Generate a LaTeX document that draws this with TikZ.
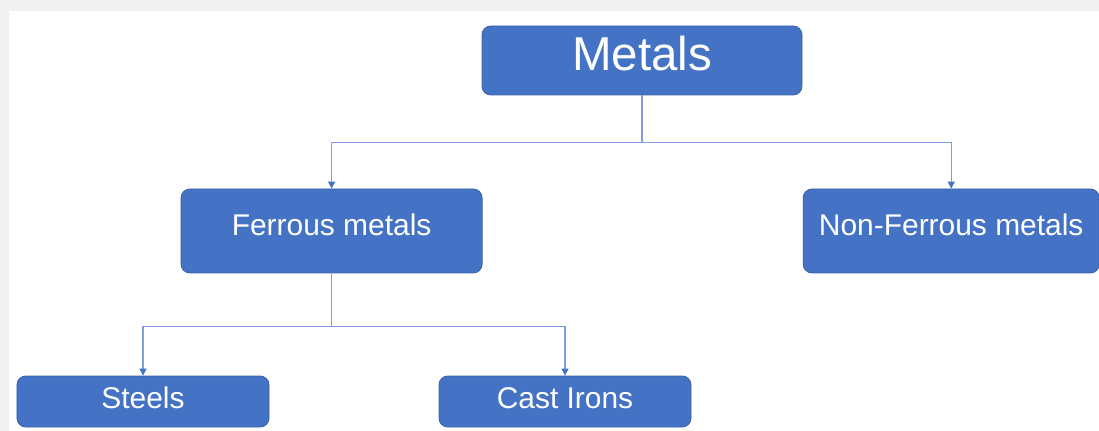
\documentclass[tikz,border=0pt]{standalone}
\usepackage{fontspec}
\setmainfont{Liberation Sans}
\usetikzlibrary{arrows.meta}
\definecolor{boxblue}{HTML}{4472C4}
\definecolor{boxedge}{HTML}{3A62AE}
\definecolor{linkblue}{HTML}{7E9EDE}
\definecolor{pagegray}{HTML}{F1F1F1}
\tikzset{
  box/.style={draw=boxedge, line width=0.6pt, fill=boxblue, text=white,
    rounded corners=0.22cm, inner sep=0pt, align=center},
  big/.style={font=\fontsize{33.8}{40}\selectfont, text height=0.85cm, text depth=0.325cm},
  mid/.style={font=\fontsize{21.3}{26}\selectfont, text height=0.55cm, text depth=0.3cm},
  low/.style={font=\fontsize{21.3}{26}\selectfont, text height=0.55cm, text depth=0.225cm},
  link/.style={draw=linkblue, line width=0.8pt, ->}
}
\begin{document}
\begin{tikzpicture}[>={Triangle[length=5pt,width=5pt,color=boxblue]}]
% page and white sheet
\fill[pagegray] (0,0) rectangle (27.475,-10.775);
\fill[white] (0.225,-0.275) rectangle (27.475,-10.775);
\useasboundingbox (0,0) rectangle (27.475,-10.775);

\node[box, big, minimum width=8cm, minimum height=1.725cm] (metals) at (16.05,-1.5125) {Metals};
\node[box, mid, minimum width=7.525cm, minimum height=2.1cm] (ferrous) at (8.29,-5.775) {Ferrous metals};
\node[box, mid, minimum width=7.4cm, minimum height=2.1cm] (nonferrous) at (23.78,-5.775) {Non-Ferrous metals};
\node[box, low, minimum width=6.3cm, minimum height=1.275cm] (steels) at (3.575,-10.0375) {Steels};
\node[box, low, minimum width=6.3cm, minimum height=1.275cm] (castirons) at (14.125,-10.0375) {Cast Irons};

% tree links
\draw[link] (metals.south) -- ++(0,-1.175) -| (ferrous.north);
\draw[link] (metals.south) -- ++(0,-1.175) -| (nonferrous.north);
\draw[link] (ferrous.south) -- ++(0,-1.325) -| (steels.north);
\draw[link] (ferrous.south) -- ++(0,-1.325) -| (castirons.north);
\end{tikzpicture}
\end{document}
